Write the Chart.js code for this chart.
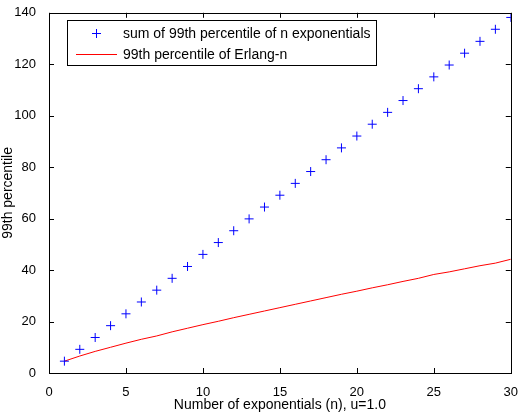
<!DOCTYPE html>
<html><head><meta charset="utf-8">
<script src="https://cdn.jsdelivr.net/npm/chart.js@4/dist/chart.umd.min.js"></script>
<style>html,body{margin:0;padding:0;background:#fff}#wrap{width:522px;height:414px}</style>
</head><body><div id="wrap"><canvas id="c" width="522" height="414"></canvas></div>
<script>
const nValues = [1,2,3,4,5,6,7,8,9,10,11,12,13,14,15,16,17,18,19,20,21,22,23,24,25,26,27,28,29,30];
const sumOfPercentiles = [4.6,9.2,13.8,18.4,23.0,27.6,32.2,36.8,41.4,46.1,50.7,55.3,59.9,64.5,69.1,73.7,78.3,82.9,87.5,92.1,96.7,101.3,105.9,110.5,115.1,119.7,124.3,128.9,133.6,138.2];
const erlangPercentile = [4.6,6.6,8.4,10.0,11.6,13.1,14.4,16.0,17.4,18.8,20.1,21.5,22.8,24.1,25.4,26.7,28.0,29.3,30.6,31.8,33.1,34.3,35.6,36.8,38.3,39.3,40.5,41.7,42.7,44.2];
const seriesLabels = ["sum of 99th percentile of n exponentials","99th percentile of Erlang-n"];
const xTitle = "Number of exponentials (n), u=1.0";
const yTitle = "99th percentile";

const FONT = "'Liberation Sans', Arial, sans-serif";
const frame = {
  id:'frame',
  afterDraw(chart){
    const {ctx, chartArea:a, scales:{x,y}} = chart;
    ctx.save();
    ctx.strokeStyle='#000'; ctx.lineWidth=1;
    ctx.strokeRect(Math.round(a.left)+0.5, Math.round(a.top)+0.5, Math.round(a.right-a.left), Math.round(a.bottom-a.top));
    const L=5;
    ctx.beginPath();
    x.ticks.forEach(t=>{const px=Math.round(x.getPixelForValue(t.value))+0.5;
      ctx.moveTo(px,a.bottom); ctx.lineTo(px,a.bottom-L);
      ctx.moveTo(px,a.top); ctx.lineTo(px,a.top+L);});
    y.ticks.forEach(t=>{const py=Math.round(y.getPixelForValue(t.value))+0.5;
      ctx.moveTo(a.left,py); ctx.lineTo(a.left+L,py);
      ctx.moveTo(a.right,py); ctx.lineTo(a.right-L,py);});
    ctx.stroke();
    // legend
    const bx=67.5, by=20.5, bw=309, bh=45;
    ctx.fillStyle='#fff'; ctx.fillRect(bx,by,bw,bh);
    ctx.strokeRect(bx,by,bw,bh);
    ctx.font='14px '+FONT; ctx.fillStyle='#000'; ctx.textBaseline='middle';
    ctx.strokeStyle='#0000ff'; ctx.beginPath();
    ctx.moveTo(92,33.5); ctx.lineTo(101,33.5); ctx.moveTo(96.5,29); ctx.lineTo(96.5,38); ctx.stroke();
    ctx.fillText(chart.data.datasets[0].label,123,34);
    ctx.strokeStyle='#ff0000'; ctx.beginPath();
    ctx.moveTo(76,54.5); ctx.lineTo(117,54.5); ctx.stroke();
    ctx.fillText(chart.data.datasets[1].label,123,55);
    ctx.restore();
  }
};

new Chart(document.getElementById('c'), {
  type:'scatter',
  data:{datasets:[
    {label:seriesLabels[0], data:nValues.map((n,i)=>({x:n,y:sumOfPercentiles[i]})),
     pointStyle:'cross', pointRadius:4.5, pointBorderColor:'#0000ff', pointBorderWidth:1, showLine:false},
    {label:seriesLabels[1], data:nValues.map((n,i)=>({x:n,y:erlangPercentile[i]})),
     showLine:true, borderColor:'#ff0000', borderWidth:1, pointRadius:0, tension:0}
  ]},
  options:{
    responsive:false, animation:false, devicePixelRatio:1,
    layout:{padding:{top:8,right:9,left:0,bottom:0}},
    plugins:{legend:{display:false}, tooltip:{enabled:false}},
    scales:{
      x:{type:'linear', min:0, max:30,
         ticks:{stepSize:5, color:'#000', font:{family:FONT,size:13}, padding:4, maxRotation:0},
         grid:{display:false}, border:{display:false},
         title:{display:true, text:xTitle, color:'#000', font:{family:FONT,size:14}, padding:{top:0,bottom:0}},
         afterFit(s){s.height=41;}},
      y:{type:'linear', min:0, max:140,
         ticks:{stepSize:20, color:'#000', font:{family:FONT,size:13}, padding:5},
         grid:{display:false}, border:{display:false},
         title:{display:true, text:yTitle, color:'#000', font:{family:FONT,size:14}, padding:{top:0,bottom:3}},
         afterFit(s){s.width=49;}}
    }
  },
  plugins:[frame]
});
</script></body></html>
